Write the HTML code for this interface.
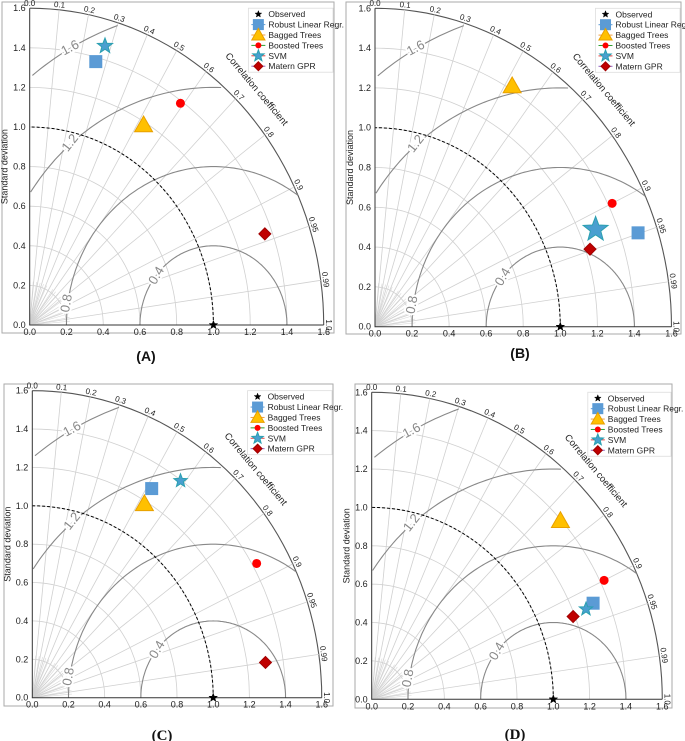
<!DOCTYPE html>
<html><head><meta charset="utf-8"><style>
html,body{margin:0;padding:0;background:#fff;}
svg{display:block;font-family:"Liberation Sans",sans-serif;}
</style></head><body>
<svg id="fig" width="685" height="741" viewBox="0 0 685 741" xmlns="http://www.w3.org/2000/svg"></svg>
<script>
const models = ['Observed','Robust Linear  Regr.','Bagged Trees','Boosted Trees','SVM','Matern GPR'];
const stdTicks = [0.0,0.2,0.4,0.6,0.8,1.0,1.2,1.4,1.6];
const stdTickLabels = ['0.0','0.2','0.4','0.6','0.8','1.0','1.2','1.4','1.6'];
const corrTicks = [0.0,0.1,0.2,0.3,0.4,0.5,0.6,0.7,0.8,0.9,0.95,0.99,1.0];
const corrTickLabels = ['0.0','0.1','0.2','0.3','0.4','0.5','0.6','0.7','0.8','0.9','0.95','0.99','1.0'];
const rmsLevels = [0.4,0.8,1.2,1.6];
const rmsLabels = ['0.4','0.8','1.2','1.6'];
// per-panel std deviation and correlation for each model (order as models)
const sdA = [1.0,1.378,1.185,1.388,1.468,1.360];
const corrA = [1.0,0.261,0.523,0.591,0.279,0.941];
const sdB = [1.0,1.496,1.418,1.422,1.287,1.224];
const corrB = [1.0,0.949,0.522,0.900,0.925,0.948];
const sdC = [1.0,1.274,1.185,1.424,1.396,1.302];
const corrC = [1.0,0.518,0.523,0.871,0.587,0.990];
const sdD = [1.0,1.318,1.395,1.422,1.270,1.190];
const corrD = [1.0,0.925,0.745,0.900,0.929,0.932];

const NS='http://www.w3.org/2000/svg';
const fig=document.getElementById('fig');
function mk(tag,attrs,parent){const e=document.createElementNS(NS,tag);for(const k in attrs)e.setAttribute(k,attrs[k]);(parent||fig).appendChild(e);return e;}

const markerTypes=['obs','square','triangle','circle','star','diamond'];
const markerFill=['#000','#5b9bd5','#ffc000','#ff0000','#4a9fd0','#c00000'];
const markerStroke=['#000','#5b9bd5','#e8a000','#ff0000','#2aa0b0','#a00000'];
const lineCol=['none','#5b9bd5','#f0a040','#30a030','#e04040','#9060c0'];

function starPts(cx,cy,R){const r=R*0.42;let p=[];for(let i=0;i<10;i++){const a=-Math.PI/2+i*Math.PI/5;const rr=i%2?r:R;p.push((cx+rr*Math.cos(a)).toFixed(1)+','+(cy+rr*Math.sin(a)).toFixed(1));}return p.join(' ');}
function drawMarker(g,type,cx,cy,s,i){
  let e;
  if(type==='square'){e=mk('rect',{x:cx-s/2,y:cy-s/2,width:s,height:s,fill:markerFill[i],stroke:markerStroke[i]},g);}
  else if(type==='triangle'){e=mk('polygon',{points:`${cx},${cy-s*0.6} ${cx-s*0.6},${cy+s*0.45} ${cx+s*0.6},${cy+s*0.45}`,fill:markerFill[i],stroke:markerStroke[i]},g);}
  else if(type==='circle'){e=mk('circle',{cx:cx,cy:cy,r:s/2,fill:markerFill[i]},g);}
  else if(type==='star'||type==='obs'){e=mk('polygon',{points:starPts(cx,cy,s/2),fill:markerFill[i],stroke:markerStroke[i],'stroke-width':type==='obs'?0.5:1},g);}
  else {e=mk('polygon',{points:`${cx},${cy-s/2} ${cx+s/2},${cy} ${cx},${cy+s/2} ${cx-s/2},${cy}`,fill:markerFill[i],stroke:markerStroke[i]},g);}
  return e;
}

const panels=[
 {id:'a',ox:29.7,oy:325,xs:183.75,ys:198,frame:[2,2,332,331],label:'(A)',lx:146,ly:361,serif:false,sd:sdA,corr:corrA,svm:16},
 {id:'b',ox:375,oy:326.7,xs:185.3,ys:199,frame:[346,2,335,332],label:'(B)',lx:520,ly:358,serif:false,sd:sdB,corr:corrB,svm:26},
 {id:'c',ox:32.3,oy:697.7,xs:180.9,ys:191.9,frame:[4,384,329,322],label:'(C)',lx:162,ly:740,serif:true,sd:sdC,corr:corrC,svm:14},
 {id:'d',ox:371.7,oy:699.3,xs:181.6,ys:191.9,frame:[355,384,317,324],label:'(D)',lx:515,ly:739,serif:true,sd:sdD,corr:corrD,svm:14}
];

panels.forEach(P=>{
  const g=mk('g',{});
  
  
  const X=x=>P.ox+x*P.xs, Y=y=>P.oy-y*P.ys;
  const pol=(r,c)=>{const t=Math.acos(Math.min(1,c));return [X(r*Math.cos(t)),Y(r*Math.sin(t))];};
  const fr=mk('rect',{x:P.frame[0],y:P.frame[1],width:P.frame[2],height:P.frame[3],fill:'#fff',stroke:'#aaa','stroke-width':1},g);
  
  
  stdTicks.forEach((s,k)=>{ if(s<=0) return;
    let d='';for(let a=0;a<=90;a+=2){const t=a*Math.PI/180;d+=(a?'L':'M')+X(s*Math.cos(t)).toFixed(1)+','+Y(s*Math.sin(t)).toFixed(1);}
    const e=mk('path',{d:d,fill:'none',stroke:s>=1.6?'#555':'#d0d0d0','stroke-width':s>=1.6?1.1:0.8},g);
    
    
  });
  for(let a=5;a<90;a+=5){const t=a*Math.PI/180;
    const e=mk('line',{x1:X(0),y1:Y(0),x2:X(0.22*Math.cos(t)),y2:Y(0.22*Math.sin(t)),stroke:'#d8d8d8','stroke-width':0.6},g);
    
    
  }
  corrTicks.forEach((c,k)=>{
    if(c>0&&c<1){const p=pol(1.6,c);
      const e=mk('line',{x1:X(0),y1:Y(0),x2:p[0],y2:p[1],stroke:'#d0d0d0','stroke-width':0.8},g);
      
      
    }
    const q=pol(1.612,c);const th=Math.acos(c)*180/Math.PI;
    const t=mk('text',{x:q[0],y:q[1],'font-size':8,fill:'#222','text-anchor':'middle',transform:`rotate(${90-th} ${q[0]} ${q[1]})`},g);
    t.textContent=corrTickLabels[k];
    
    
  });
  rmsLevels.forEach((R,k)=>{
    let d='',pen=false;
    for(let a=0;a<=180;a+=1){const t=a*Math.PI/180;const x=1+R*Math.cos(t),y=R*Math.sin(t);
      if(x>=0&&Math.hypot(x,y)<=1.6){d+=(pen?'L':'M')+X(x).toFixed(1)+','+Y(y).toFixed(1);pen=true;}else pen=false;}
    const e=mk('path',{d:d,fill:'none',stroke:'#888','stroke-width':1.1},g);
    
    
  });
  const rl=[[0.69,0.25,-60],[0.2,0.11,-80],[0.22,0.92,-52],[0.22,1.40,-28]];
  rmsLevels.forEach((R,k)=>{const px=X(rl[k][0]),py=Y(rl[k][1]);
    const t=mk('text',{x:px,y:py+4,'font-size':13,fill:'#888',stroke:'#fff','stroke-width':4,'paint-order':'stroke','text-anchor':'middle',transform:`rotate(${rl[k][2]} ${px} ${py})`},g);
    t.textContent=rmsLabels[k];
    
    
  });
  let d='';for(let a=0;a<=90;a+=2){const t=a*Math.PI/180;d+=(a?'L':'M')+X(Math.cos(t)).toFixed(1)+','+Y(Math.sin(t)).toFixed(1);}
  const ref=mk('path',{d:d,fill:'none',stroke:'#000','stroke-width':1,'stroke-dasharray':'3,2'},g);
  
  
  const ax=mk('path',{d:`M${X(0)},${Y(1.6)}L${X(0)},${Y(0)}L${X(1.6)},${Y(0)}`,fill:'none',stroke:'#333','stroke-width':1},g);
  
  
  stdTicks.forEach((s,k)=>{
    const tx=mk('text',{x:X(s),y:Y(0)+10,'font-size':9,fill:'#222','text-anchor':'middle'},g);
    tx.textContent=stdTickLabels[k];
    
    
    const ty=mk('text',{x:X(0)-4,y:Y(s)+3,'font-size':9,fill:'#222','text-anchor':'end'},g);
    ty.textContent=stdTickLabels[k];
    
    
  });
  const yl=mk('text',{x:X(0)-22,y:Y(0.8),'font-size':9,fill:'#222','text-anchor':'middle',transform:`rotate(-90 ${X(0)-22} ${Y(0.8)})`},g);
  yl.textContent='Standard deviation';
  
  
  const cq=pol(1.70,Math.cos(44*Math.PI/180));
  const ct=mk('text',{x:cq[0],y:cq[1],'font-size':9.5,fill:'#222','text-anchor':'middle',transform:`rotate(50 ${cq[0]} ${cq[1]})`},g);
  ct.textContent='Correlation coefficient';
  
  
  const sizes=[9,12,15,9,P.svm,12];
  models.forEach((m,i)=>{const p=pol(P.sd[i],P.corr[i]);
    const e=drawMarker(g,markerTypes[i],p[0],p[1],sizes[i],i);
    
    
  });
  const lx=X(1.19),ly=Y(1.6);
  const lg=mk('g',{},g);
  
  
  const lb=mk('rect',{x:lx,y:ly,width:Math.min(P.frame[0]+P.frame[2]-lx-1,86),height:64,fill:'#fff',stroke:'#ddd','stroke-width':0.8},lg);
  
  
  const ls=[7,10,11,6,12,9];
  models.forEach((m,i)=>{const yy=ly+6+i*10.4;
    if(i>0){const ln=mk('line',{x1:lx+3,y1:yy,x2:lx+17,y2:yy,stroke:lineCol[i],'stroke-width':1},lg);
      
      }
    const e=drawMarker(lg,markerTypes[i],lx+10,yy,ls[i],i);
    
    
    const t=mk('text',{x:lx+20,y:yy+3,'font-size':8.5,fill:'#222'},lg);
    t.textContent=m;
    
    
  });
  const pl=mk('text',{x:P.lx,y:P.ly,'font-size':P.serif?15:14,'font-weight':'bold','font-family':P.serif?'"Liberation Serif",serif':'"Liberation Sans",sans-serif',fill:'#111','text-anchor':'middle'});
  pl.textContent=P.label;
  
  
});
</script>
</body></html>
